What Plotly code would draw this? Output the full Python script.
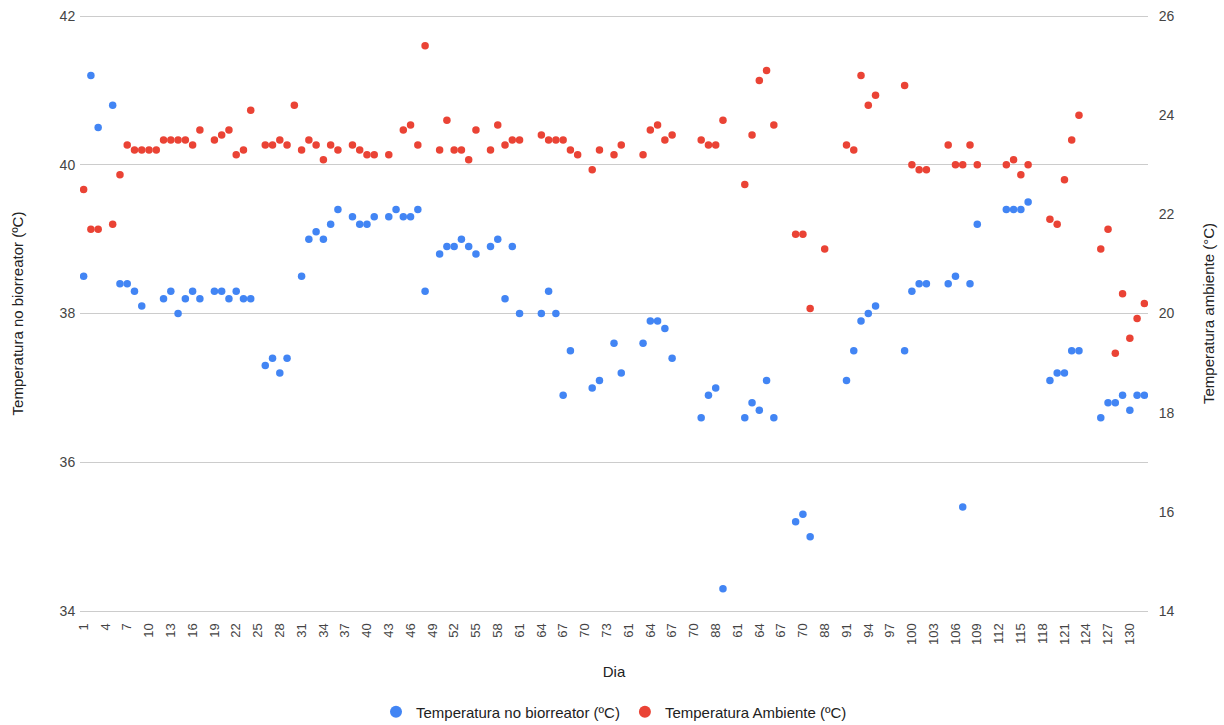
import plotly.graph_objects as go

# Day labels for each category (x axis, every third one is displayed)
dias = ([str(d) for d in range(1, 76)] +
        [str(d) for d in range(61, 73)] + ["88", "89", "90"] +
        [str(d) for d in range(61, 73)] + ["88", "89", "90"] +
        [str(d) for d in range(91, 133)])

N = None
temp_biorreator = [
    38.5, 41.2, 40.5, N, 40.8, 38.4, 38.4, 38.3, 38.1, N,
    N, 38.2, 38.3, 38.0, 38.2, 38.3, 38.2, N, 38.3, 38.3,
    38.2, 38.3, 38.2, 38.2, N, 37.3, 37.4, 37.2, 37.4, N,
    38.5, 39.0, 39.1, 39.0, 39.2, 39.4, N, 39.3, 39.2, 39.2,
    39.3, N, 39.3, 39.4, 39.3, 39.3, 39.4, 38.3, N, 38.8,
    38.9, 38.9, 39.0, 38.9, 38.8, N, 38.9, 39.0, 38.2, 38.9,
    38.0, N, N, 38.0, 38.3, 38.0, 36.9, 37.5, N, N,
    37.0, 37.1, N, 37.6, 37.2, N, N, 37.6, 37.9, 37.9,
    37.8, 37.4, N, N, N, 36.6, 36.9, 37.0, 34.3, N,
    N, 36.6, 36.8, 36.7, 37.1, 36.6, N, N, 35.2, 35.3,
    35.0, N, N, N, N, 37.1, 37.5, 37.9, 38.0, 38.1,
    N, N, N, 37.5, 38.3, 38.4, 38.4, N, N, 38.4,
    38.5, 35.4, 38.4, 39.2, N, N, N, 39.4, 39.4, 39.4,
    39.5, N, N, 37.1, 37.2, 37.2, 37.5, 37.5, N, N,
    36.6, 36.8, 36.8, 36.9, 36.7, 36.9, 36.9,
]
temp_ambiente = [
    22.5, 21.7, 21.7, N, 21.8, 22.8, 23.4, 23.3, 23.3, 23.3,
    23.3, 23.5, 23.5, 23.5, 23.5, 23.4, 23.7, N, 23.5, 23.6,
    23.7, 23.2, 23.3, 24.1, N, 23.4, 23.4, 23.5, 23.4, 24.2,
    23.3, 23.5, 23.4, 23.1, 23.4, 23.3, N, 23.4, 23.3, 23.2,
    23.2, N, 23.2, N, 23.7, 23.8, 23.4, 25.4, N, 23.3,
    23.9, 23.3, 23.3, 23.1, 23.7, N, 23.3, 23.8, 23.4, 23.5,
    23.5, N, N, 23.6, 23.5, 23.5, 23.5, 23.3, 23.2, N,
    22.9, 23.3, N, 23.2, 23.4, N, N, 23.2, 23.7, 23.8,
    23.5, 23.6, N, N, N, 23.5, 23.4, 23.4, 23.9, N,
    N, 22.6, 23.6, 24.7, 24.9, 23.8, N, N, 21.6, 21.6,
    20.1, N, 21.3, N, N, 23.4, 23.3, 24.8, 24.2, 24.4,
    N, N, N, 24.6, 23.0, 22.9, 22.9, N, N, 23.4,
    23.0, 23.0, 23.4, 23.0, N, N, N, 23.0, 23.1, 22.8,
    23.0, N, N, 21.9, 21.8, 22.7, 23.5, 24.0, N, N,
    21.3, 21.7, 19.2, 20.4, 19.5, 19.9, 20.2,
]

idx = list(range(len(dias)))
font = "Arial, Liberation Sans, sans-serif"
clear = "rgba(0,0,0,0)"

# Axis limits; a 3px pad keeps the gridlines at the limits visible
y1_min, y1_max = 34, 42
y2_min, y2_max = 14, 26
pad_px, scale_px = 3, 595
p1 = pad_px * (y1_max - y1_min) / scale_px
p2 = pad_px * (y2_max - y2_min) / scale_px

fig = go.Figure()
fig.add_trace(go.Scatter(
    x=idx, y=temp_biorreator, mode="markers",
    name="Temperatura no biorreator (ºC)",
    marker=dict(color="#4285F4", size=7.5),
    customdata=dias, hovertemplate="Dia %{customdata}: %{y}<extra></extra>",
))
fig.add_trace(go.Scatter(
    x=idx, y=temp_ambiente, mode="markers", yaxis="y2",
    name="Temperatura Ambiente (ºC)",
    marker=dict(color="#EA4335", size=7.5),
    customdata=dias, hovertemplate="Dia %{customdata}: %{y}<extra></extra>",
))

fig.update_layout(
    width=1224, height=725,
    margin=dict(l=80, r=76, t=16 - pad_px, b=114 - pad_px, autoexpand=False),
    plot_bgcolor="white", paper_bgcolor="white",
    font=dict(family=font, size=14, color="#444444"),
    showlegend=True,
    legend=dict(orientation="h", x=0.5, xanchor="center", y=-98 / 601, yanchor="middle",
                font=dict(size=15, color="#222222"), itemsizing="constant"),
    xaxis=dict(
        range=[-0.5, len(dias) - 0.5], automargin=False,
        tickmode="array", tickvals=idx[::3], ticktext=dias[::3],
        tickangle=-90, tickfont=dict(size=13, color="#444444"),
        showgrid=False, zeroline=False, showline=False,
        ticks="outside", ticklen=3, tickcolor=clear,
        title=dict(text="Dia", font=dict(size=15, color="#222222"), standoff=22),
    ),
    yaxis=dict(
        range=[y1_min - p1, y1_max + p1], tickvals=[34, 36, 38, 40, 42], automargin=False,
        showgrid=True, gridcolor="#cccccc", zeroline=False, showline=False,
        ticks="outside", ticklen=1, tickcolor=clear, ticklabeloverflow="allow",
        tickfont=dict(size=14, color="#444444"),
        title=dict(text="Temperatura no biorreator (ºC)", font=dict(size=15, color="#222222"), standoff=32),
    ),
    yaxis2=dict(
        range=[y2_min - p2, y2_max + p2], tickvals=[14, 16, 18, 20, 22, 24, 26],
        overlaying="y", side="right", automargin=False,
        showgrid=False, zeroline=False, showline=False,
        ticks="outside", ticklen=7, tickcolor=clear, ticklabeloverflow="allow",
        tickfont=dict(size=14, color="#444444"),
        title=dict(text="Temperatura ambiente (°C)", font=dict(size=15, color="#222222"), standoff=29),
    ),
)

fig.write_html("out.html", config={"displayModeBar": False},
               post_script="document.body.style.margin='0';")
